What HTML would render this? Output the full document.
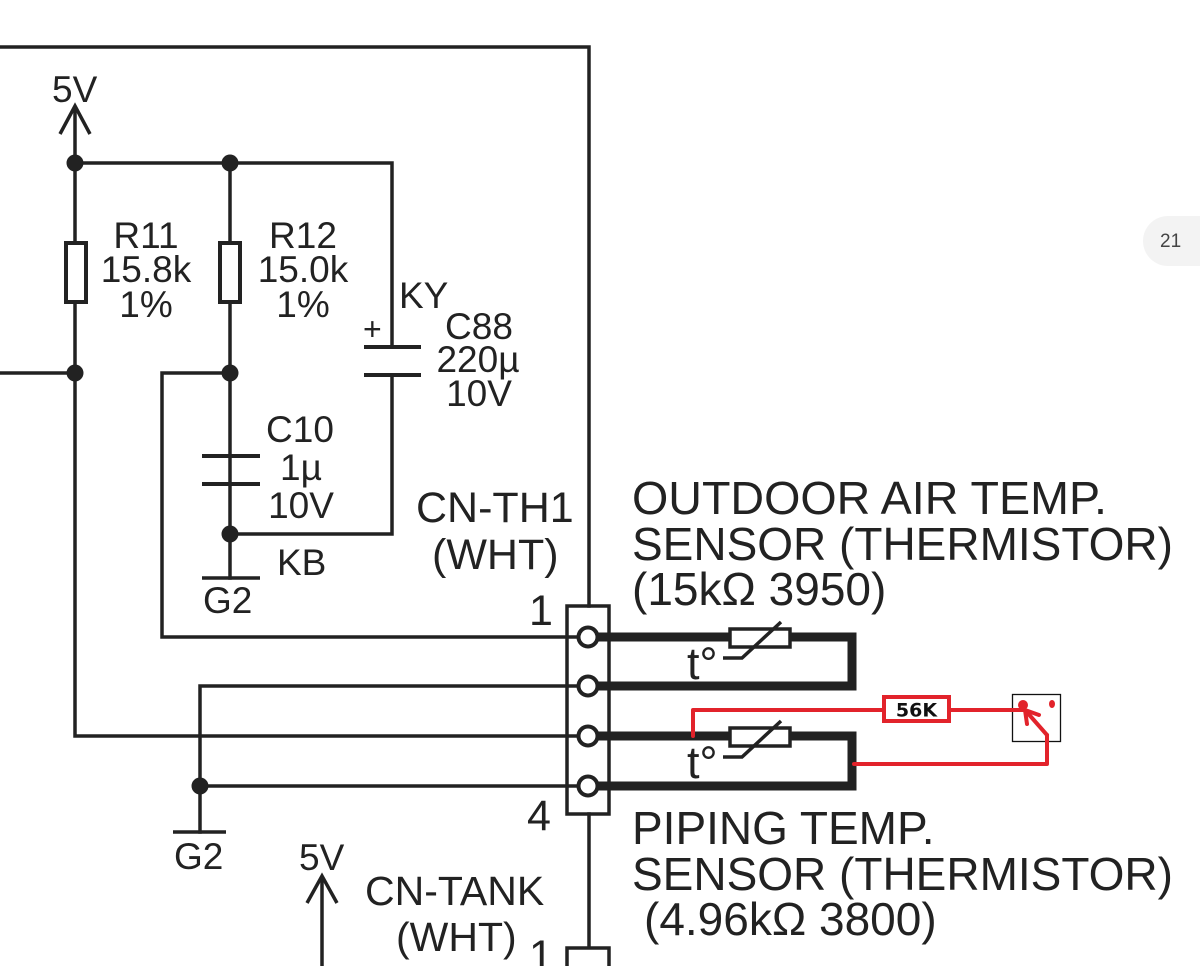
<!DOCTYPE html>
<html><head><meta charset="utf-8"><style>
html,body{margin:0;padding:0;background:#fff;}
svg{display:block;}
text{font-family:"Liberation Sans",Arial,sans-serif;fill:#222;}
</style></head><body>
<svg width="1200" height="966" viewBox="0 0 1200 966" xmlns="http://www.w3.org/2000/svg">
<rect width="1200" height="966" fill="#fff"/>
<!-- badge -->
<path d="M1200,216 H1168 A25,25 0 0 0 1168,266 H1200 Z" fill="#f3f3f3"/>
<text x="1160" y="247" font-size="19" style="fill:#444">21</text>

<g stroke="#222" stroke-width="3.5" fill="none" stroke-linecap="square">
  <path d="M0,47 H589 V606"/>
  <path d="M75,108 V373"/>
  <path d="M60,134 L75,106 L90,134" stroke-linecap="butt"/>
  <path d="M75,163 H392 V347"/>
  <path d="M364,347 H421 M364,375 H421" stroke-width="4" stroke-linecap="butt"/>
  <path d="M392,375 V534 H230"/>
  <path d="M230,163 V578"/>
  <path d="M202,456 H260 M202,484 H260" stroke-width="4" stroke-linecap="butt"/>
  <path d="M202,578 H260" stroke-linecap="butt"/>
  <path d="M0,373 H75"/>
  <path d="M230,373 H162 V637 H588"/>
  <path d="M75,373 V736 H588"/>
  <path d="M588,686 H200 V832"/>
  <path d="M200,786 H588"/>
  <path d="M173,832 H226" stroke-linecap="butt"/>
  <path d="M589,814 V948"/>
  <path d="M322,878 V970"/>
  <path d="M307,903 L322,876 L337,903" stroke-linecap="butt"/>
</g>

<rect x="66" y="243" width="20" height="59" fill="#fff" stroke="#222" stroke-width="4"/>
<rect x="220" y="243" width="20" height="59" fill="#fff" stroke="#222" stroke-width="4"/>

<g fill="#222">
  <circle cx="75" cy="163" r="8.5"/>
  <circle cx="230" cy="163" r="8.5"/>
  <circle cx="75" cy="373" r="8.5"/>
  <circle cx="230" cy="373" r="8.5"/>
  <circle cx="230" cy="534" r="8.5"/>
  <circle cx="200" cy="786" r="8.5"/>
</g>

<g stroke="#222" stroke-width="9" fill="none" stroke-linejoin="miter">
  <path d="M588,637 H852 V686 H588"/>
  <path d="M588,736 H852 V786 H588"/>
</g>
<g stroke="#222" stroke-width="3.5" fill="#fff">
  <rect x="730" y="629" width="60" height="18"/>
  <rect x="730" y="728" width="60" height="18"/>
</g>
<g stroke="#222" stroke-width="3.5" fill="none">
  <path d="M723,658 H742 L781,622"/>
  <path d="M723,757 H742 L781,721"/>
</g>
<text x="687" y="679" font-size="45">t°</text>
<text x="687" y="778" font-size="45">t°</text>

<rect x="567" y="606" width="42" height="208" fill="none" stroke="#222" stroke-width="3.5"/>
<rect x="567" y="948" width="42" height="40" fill="#fff" stroke="#222" stroke-width="3.5"/>
<g fill="#fff" stroke="#222" stroke-width="4">
  <circle cx="588" cy="637" r="9.5"/>
  <circle cx="588" cy="686" r="9.5"/>
  <circle cx="588" cy="736" r="9.5"/>
  <circle cx="588" cy="786" r="9.5"/>
</g>

<text x="52" y="102" font-size="37">5V</text>
<g font-size="37" text-anchor="middle">
  <text x="146" y="248">R11</text>
  <text x="146" y="282">15.8k</text>
  <text x="146" y="317">1%</text>
  <text x="303" y="248">R12</text>
  <text x="303" y="282">15.0k</text>
  <text x="303" y="317">1%</text>
  <text x="479" y="339">C88</text>
  <text x="478" y="372">220µ</text>
  <text x="479" y="406">10V</text>
  <text x="300" y="442">C10</text>
  <text x="301" y="480">1µ</text>
  <text x="301" y="518">10V</text>
</g>
<text x="399" y="308" font-size="37">KY</text>
<text x="363" y="340" font-size="32">+</text>
<text x="277" y="575" font-size="37">KB</text>
<text x="203" y="613" font-size="37">G2</text>
<text x="174" y="869" font-size="37">G2</text>
<text x="416" y="522" font-size="43">CN-TH1</text>
<text x="432" y="569" font-size="43">(WHT)</text>
<text x="529" y="625" font-size="43">1</text>
<text x="527" y="830" font-size="43">4</text>
<text x="299" y="870" font-size="37">5V</text>
<text x="365" y="905" font-size="41">CN-TANK</text>
<text x="396" y="951" font-size="41">(WHT)</text>
<text x="529" y="970" font-size="43">1</text>

<g font-size="46">
  <text x="632" y="514" textLength="475" lengthAdjust="spacingAndGlyphs">OUTDOOR AIR TEMP.</text>
  <text x="632" y="560">SENSOR (THERMISTOR)</text>
  <text x="632" y="605">(15kΩ 3950)</text>
  <text x="632" y="844">PIPING TEMP.</text>
  <text x="632" y="890">SENSOR (THERMISTOR)</text>
  <text x="644" y="935">(4.96kΩ 3800)</text>
</g>

<rect x="1012.5" y="694.5" width="48" height="47" fill="none" stroke="#111" stroke-width="1.3"/>
<g stroke="#e2232b" stroke-width="4" fill="none" stroke-linecap="round" stroke-linejoin="round">
  <path d="M693,736 V710 H884"/>
  <path d="M950,710 H1023"/>
  <path d="M1047,735 V764 H854"/>
  <path d="M1047,735 L1025,710"/>
  <path d="M1039,715 L1025,710 L1027,724"/>
</g>
<rect x="884" y="697" width="65" height="24" fill="#fff" stroke="#e2232b" stroke-width="4"/>
<text x="916.5" y="716.5" font-size="19" font-weight="bold" text-anchor="middle" style="font-family:'DejaVu Sans','Liberation Sans',sans-serif;fill:#111">56K</text>
<circle cx="1023" cy="705" r="5" fill="#e2232b"/>
<ellipse cx="1052" cy="704" rx="3" ry="4" fill="#e2232b"/>
</svg>
</body></html>
